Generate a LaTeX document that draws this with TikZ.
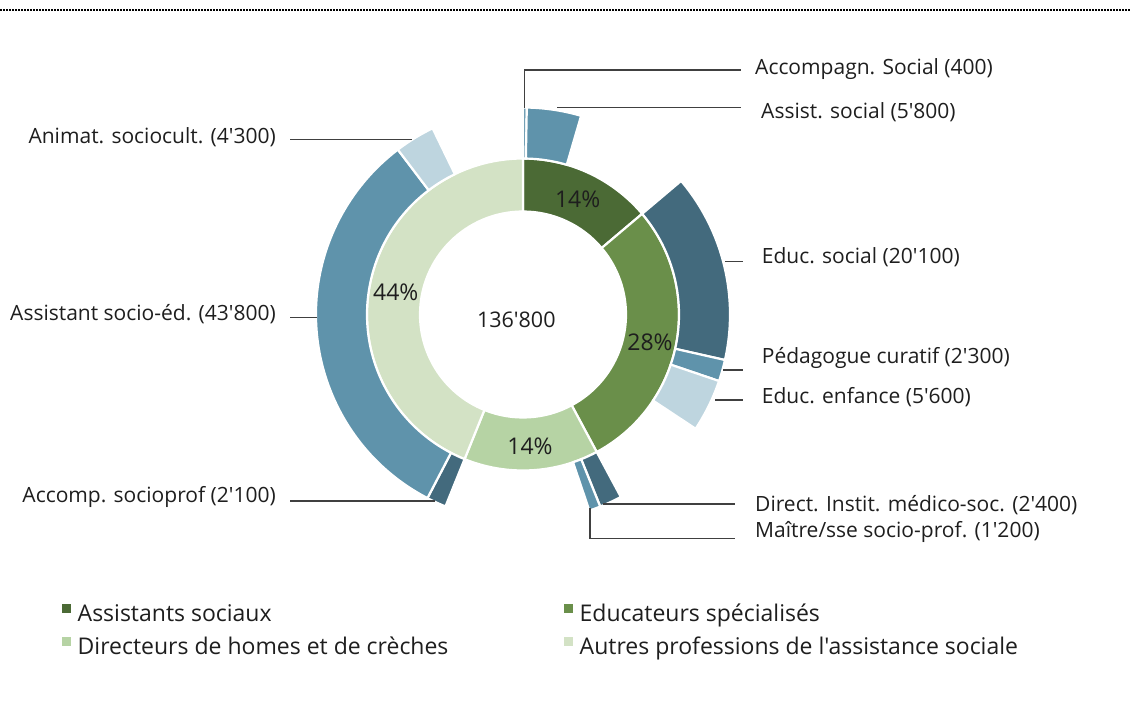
\documentclass[tikz,border=0pt]{standalone}
\usepackage{fontspec}
\setmainfont{Open Sans}[Ligatures=TeXOff]
\definecolor{gA}{HTML}{4B6A35}
\definecolor{gB}{HTML}{6A8F4A}
\definecolor{gC}{HTML}{B6D3A4}
\definecolor{gD}{HTML}{D3E2C5}
\definecolor{bD}{HTML}{436A7D}
\definecolor{bM}{HTML}{5F93AB}
\definecolor{bL}{HTML}{BED5DF}
\definecolor{txt}{HTML}{1E1E1E}
\definecolor{lead}{HTML}{404040}
\newcommand\ringseg[5]{%
  \pgfmathsetmacro\segsa{#1-90}\pgfmathsetmacro\segea{#2-90}%
  \path[segstyle,fill=#5,shift={(523,314.5)}]
    (\segsa:#3) -- (\segsa:#4) arc[start angle=\segsa,end angle=\segea,radius=#4]
    -- (\segea:#3) arc[start angle=\segea,end angle=\segsa,radius=#3] -- cycle;}
\begin{document}
\begin{tikzpicture}[x=1pt,y=-1pt,
  segstyle/.style={draw=white,line width=2.2pt,line join=miter},
  lbl/.style={font=\fontsize{21pt}{25pt}\selectfont,text=txt,inner sep=0pt},
  tot/.style={font=\fontsize{21.5pt}{25pt}\selectfont,text=txt,inner sep=0pt,anchor=base},
  pct/.style={font=\fontsize{23pt}{27pt}\selectfont,text=txt,inner sep=0pt,anchor=base},
  leg/.style={font=\fontsize{23pt}{27pt}\selectfont,text=txt,inner sep=0pt,anchor=base west},
  legbox/.style={minimum size=9pt,inner sep=0pt,anchor=north west},
  leader/.style={draw=lead,line width=1.5pt},
  topline/.style={draw=black,line width=1.2pt,dash pattern=on 2pt off 1pt}]
\useasboundingbox (0,0) rectangle (1131,708);
\draw[topline] (0,10) -- (1131,10);
% inner ring
\ringseg{0}{49.8}{103}{156}{gA}
\ringseg{49.8}{151.8}{103}{156}{gB}
\ringseg{151.8}{202}{103}{156}{gC}
\ringseg{202}{360}{103}{156}{gD}
% outer ring
\ringseg{0}{1.05}{156}{207}{bM}
\ringseg{1.05}{16.3}{156}{207}{bM}
\ringseg{49.8}{102.7}{156}{207}{bD}
\ringseg{102.7}{108.75}{156}{207}{bM}
\ringseg{108.75}{123.5}{156}{207}{bL}
\ringseg{151.8}{158.1}{156}{207}{bD}
\ringseg{158.1}{161.3}{156}{207}{bM}
\ringseg{202}{207.5}{156}{207}{bD}
\ringseg{207.5}{322.8}{156}{207}{bM}
\ringseg{322.8}{334.1}{156}{207}{bL}
% centre and percentages
\node[tot] (tot) at (516.3,327.3) {136'800};
\node[pct] (pA) at (577.7,207.7) {14\%};
\node[pct] (pB) at (650,350) {28\%};
\node[pct] (pC) at (530,454.3) {14\%};
\node[pct] (pD) at (395.8,300.7) {44\%};
% labels right
\node[lbl,anchor=base west] (l1) at (755,75) {Accompagn. Social (400)};
\node[lbl,anchor=base west] (l2) at (761,118.3) {Assist. social (5'800)};
\node[lbl,anchor=base west] (l3) at (761.7,263.3) {Educ. social (20'100)};
\node[lbl,anchor=base west] (l4) at (761.7,363.3) {Pédagogue curatif (2'300)};
\node[lbl,anchor=base west] (l5) at (761.7,403.3) {Educ. enfance (5'600)};
\node[lbl,anchor=base west] (l6) at (755,511.7) {Direct. Instit. médico-soc. (2'400)};
\node[lbl,anchor=base west] (l7) at (755,537.5) {Maître/sse socio-prof. (1'200)};
% labels left
\node[lbl,anchor=base east] (l8) at (276,143.3) {Animat. sociocult. (4'300)};
\node[lbl,anchor=base east] (l9) at (276,320.7) {Assistant socio-éd. (43'800)};
\node[lbl,anchor=base east] (l10) at (276,502.3) {Accomp. socioprof (2'100)};
% leader coordinates
\coordinate (s1) at (524.3,108.3);
\coordinate (e1) at (740.7,70);
\coordinate (s2) at (557.3,107.7);
\coordinate (e2) at (740.7,107.7);
\coordinate (s3) at (725,261.7);
\coordinate (e3) at (743.3,261.7);
\coordinate (s4) at (723.3,370);
\coordinate (e4) at (743.3,370);
\coordinate (s5) at (715,400);
\coordinate (e5) at (743.3,400);
\coordinate (s6) at (603.3,504);
\coordinate (e6) at (735,504);
\coordinate (s7) at (590,508.3);
\coordinate (e7) at (735,538.3);
\coordinate (s8) at (411.7,139.3);
\coordinate (e8) at (290,139.3);
\coordinate (s9) at (316.7,317.3);
\coordinate (e9) at (290,317.3);
\coordinate (s10) at (435,501);
\coordinate (e10) at (290,501);
\draw[leader] (s1) |- (e1);
\draw[leader] (s2) -- (e2);
\draw[leader] (s3) -- (e3);
\draw[leader] (s4) -- (e4);
\draw[leader] (s5) -- (e5);
\draw[leader] (s6) -- (e6);
\draw[leader] (s7) |- (e7);
\draw[leader] (s8) -- (e8);
\draw[leader] (s9) -- (e9);
\draw[leader] (s10) -- (e10);
% legend
\node[legbox,fill=gA] (k1) at (62,604) {};
\node[leg] (t1) at (77.5,621.7) {Assistants sociaux};
\node[legbox,fill=gB] (k2) at (563.5,604) {};
\node[leg] (t2) at (579.5,621.7) {Educateurs spécialisés};
\node[legbox,fill=gC] (k3) at (62,636.5) {};
\node[leg] (t3) at (77.5,654) {Directeurs de homes et de crèches};
\node[legbox,fill=gD] (k4) at (563.5,636.5) {};
\node[leg] (t4) at (579.5,654) {Autres professions de l'assistance sociale};
\end{tikzpicture}
\end{document}
